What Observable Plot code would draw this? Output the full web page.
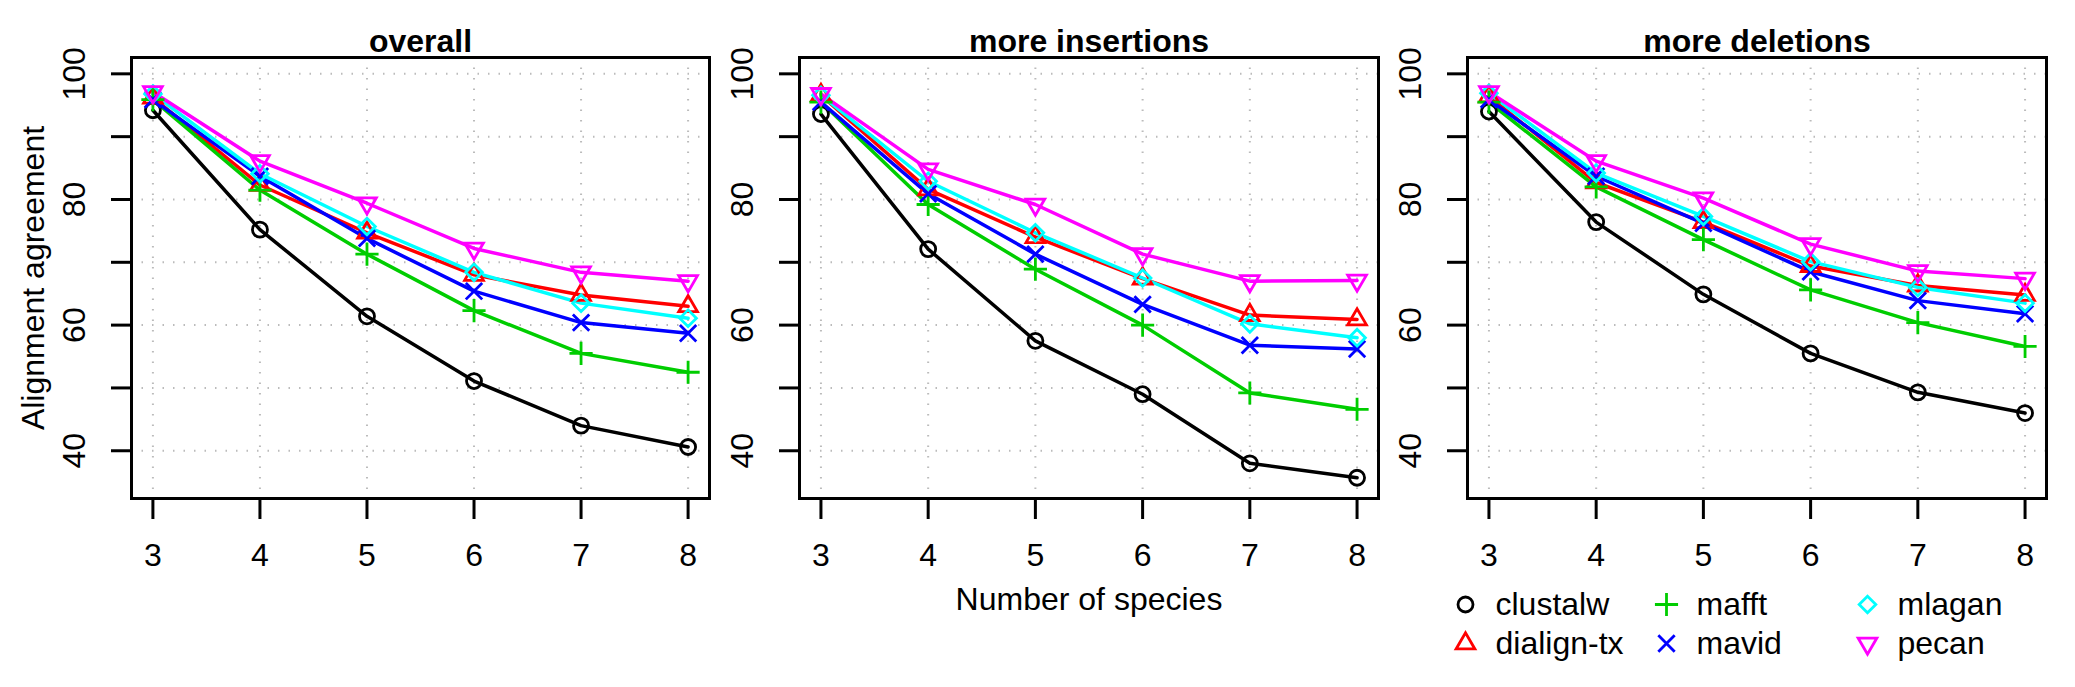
<!DOCTYPE html>
<html><head><meta charset="utf-8">
<script src="https://cdn.jsdelivr.net/npm/d3@7"></script>
<script src="https://cdn.jsdelivr.net/npm/@observablehq/plot@0.6"></script>
<style>
body{margin:0;background:#fff;font-family:"Liberation Sans",Arial,sans-serif;}
#wrap{position:relative;width:2075px;height:687px;}
#wrap svg{position:absolute;top:0;overflow:visible;}
</style></head><body><div id="wrap"></div>
<script>
const species = [3,4,5,6,7,8];
const methods = ["clustalw","dialign-tx","mafft","mavid","mlagan","pecan"];
const colors = ["#000000","#ff0000","#00cd00","#0000ff","#00ffff","#ff00ff"];
const panels = ["overall","more insertions","more deletions"];
const yTicks = [40,60,80,100];

const overall = {
  "clustalw":[94.2,75.2,61.4,51.1,44.0,40.6],
  "dialign-tx":[96.2,82.3,74.7,68.0,64.8,63.0],
  "mafft":[95.9,81.5,71.3,62.3,55.5,52.5],
  "mavid":[95.9,83.7,73.8,65.4,60.4,58.7],
  "mlagan":[96.8,84.1,75.7,68.4,63.5,61.1],
  "pecan":[97.1,86.1,79.4,72.2,68.4,67.0]
};
const insertions = {
  "clustalw":[93.6,72.1,57.5,49.0,38.0,35.7],
  "dialign-tx":[96.6,81.6,74.0,67.4,61.6,60.9],
  "mafft":[95.5,79.2,68.9,60.0,49.2,46.6],
  "mavid":[95.5,80.9,71.3,63.3,56.8,56.2],
  "mlagan":[96.6,82.9,74.7,67.5,60.2,58.0],
  "pecan":[96.8,84.8,79.2,71.3,67.0,67.1]
};
const deletions = {
  "clustalw":[94.0,76.4,64.9,55.5,49.3,46.0],
  "dialign-tx":[96.4,82.7,76.4,69.4,66.3,64.8],
  "mafft":[95.5,82.0,73.6,65.6,60.4,56.6],
  "mavid":[95.9,83.7,76.2,68.5,63.9,61.8],
  "mlagan":[96.9,84.2,77.3,70.1,66.0,63.5],
  "pecan":[97.1,86.1,80.2,72.9,68.6,67.4]
};
const panelData = [overall, insertions, deletions];

const downTriangle = {draw(ctx, size){
  const s = Math.sqrt(size/Math.PI)*1.25;
  ctx.moveTo(-s,-0.58*s); ctx.lineTo(s,-0.58*s); ctx.lineTo(0,1.15*s); ctx.closePath();
}};
const upTriangle = {draw(ctx, size){
  const s = Math.sqrt(size/Math.PI)*1.25;
  ctx.moveTo(-s,0.58*s); ctx.lineTo(s,0.58*s); ctx.lineTo(0,-1.15*s); ctx.closePath();
}};
const symbols = ["circle", upTriangle, "plus", "times", "diamond2", downTriangle];
const symOf = Object.fromEntries(methods.map((m,i)=>[m,symbols[i]]));
const colOf = Object.fromEntries(methods.map((m,i)=>[m,colors[i]]));

const layout = [
  {left:0, width:730, ml:131, mr:21},
  {left:730, width:670, ml:69, mr:22},
  {left:1400, width:675, ml:67, mr:29}
];
const wrap = document.getElementById("wrap");

panels.forEach((title, p) => {
  const rows = [];
  methods.forEach(m => species.forEach((s,i) => rows.push({method:m, n:s, v:panelData[p][m][i]})));
  const L = layout[p];
  const marks = [
    Plot.gridX(species, {stroke:"#bbb", strokeOpacity:1, strokeDasharray:"1.5,9", strokeWidth:2}),
    Plot.gridY(d3.range(40,101,10), {stroke:"#bbb", strokeOpacity:1, strokeDasharray:"1.5,9", strokeWidth:2}),
    Plot.axisX({ticks:species, tickSize:21, tickPadding:24, fontSize:32, strokeWidth:3, label:null, tickFormat:d=>String(d)}),
    Plot.axisY({ticks:d3.range(40,101,10), tickSize:20, tickFormat:()=>"", strokeWidth:3, label:null}),
    Plot.text(yTicks, {y:d=>d, text:d=>String(d), frameAnchor:"left", dx:-57, rotate:-90, textAnchor:"middle", fontSize:32, fill:"black"}),
    ...methods.map(m => Plot.line(rows.filter(r=>r.method===m), {x:"n", y:"v", stroke:colOf[m], strokeWidth:3.5})),
    ...methods.map(m => Plot.dot(rows.filter(r=>r.method===m), {x:"n", y:"v", stroke:colOf[m], symbol:()=>symOf[m], r:7.5, strokeWidth:2.8, fill:"none"})),
    Plot.frame({stroke:"black", strokeWidth:3}),
    Plot.text([title], {frameAnchor:"top", dy:-28, fontSize:32, fontWeight:"bold", fill:"black", text:d=>d})
  ];
  if (p===0) marks.push(Plot.text(["Alignment agreement"], {frameAnchor:"left", dx:-98, rotate:-90, textAnchor:"middle", fontSize:32, fill:"black", text:d=>d}));
  if (p===1) marks.push(Plot.text(["Number of species"], {frameAnchor:"bottom", dy:111, fontSize:32, fill:"black", text:d=>d}));
  const svg = Plot.plot({
    width:L.width, height:687,
    marginLeft:L.ml, marginRight:L.mr, marginTop:57, marginBottom:189,
    x:{domain:[2.8,8.2]}, y:{domain:[32.4,102.6]},
    style:{fontFamily:"Liberation Sans, Arial, sans-serif", fontSize:"32px", overflow:"visible", background:"transparent"},
    symbol:{type:"identity"},
    marks
  });
  svg.style.left = L.left+"px";
  wrap.appendChild(svg);
});

// legend
const legendRows = methods.map((m,i)=>({method:m, col:Math.floor(i/2), row:i%2}));
const leg = Plot.plot({
  width:675, height:90, margin:0,
  x:{type:"linear", domain:[0,2], range:[65,467], axis:null},
  y:{type:"linear", domain:[0,1], range:[24,63], axis:null},
  symbol:{type:"identity"},
  style:{fontFamily:"Liberation Sans, Arial, sans-serif", overflow:"visible", background:"transparent"},
  marks:[
    ...legendRows.map(d => Plot.dot([d], {x:"col", y:"row", stroke:colOf[d.method], symbol:()=>symOf[d.method], r:7.5, strokeWidth:2.8, fill:"none"})),
    Plot.text(legendRows, {x:"col", y:"row", text:"method", dx:30, textAnchor:"start", fontSize:32, fill:"black"})
  ]
});
leg.style.left="1400px"; leg.style.top="580px";
wrap.appendChild(leg);
</script></body></html>
